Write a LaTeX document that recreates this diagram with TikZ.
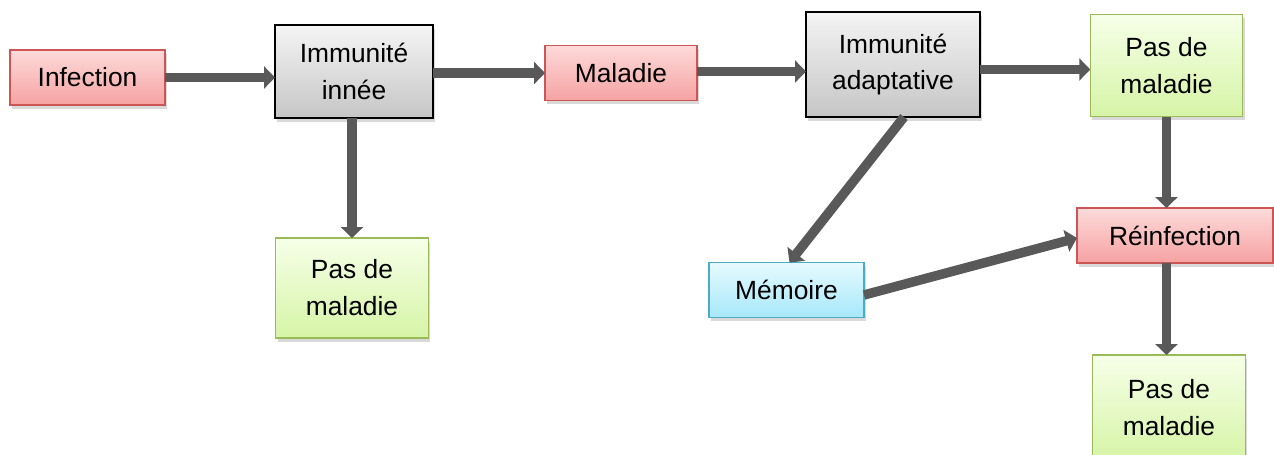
\documentclass[tikz,border=0pt]{standalone}
\usepackage{fontspec}
\setmainfont{Liberation Sans}
\usetikzlibrary{arrows.meta,shadows}

\definecolor{redtop}{HTML}{FDDADA}
\definecolor{redbot}{HTML}{F6A2A2}
\definecolor{redline}{HTML}{CC5555}
\definecolor{graytop}{HTML}{F4F4F4}
\definecolor{graybot}{HTML}{C6C6C6}
\definecolor{greentop}{HTML}{F6FFE8}
\definecolor{greenbot}{HTML}{D6F4A6}
\definecolor{greenline}{HTML}{9BBB59}
\definecolor{bluetop}{HTML}{E6FAFF}
\definecolor{bluebot}{HTML}{A6E8FA}
\definecolor{blueline}{HTML}{4BACC6}
\definecolor{arrowgray}{HTML}{595959}

\begin{document}
\begin{tikzpicture}[
    box/.style={draw,line width=0.8pt,align=center,inner sep=0pt,outer sep=0pt,
        font=\fontsize{15}{21}\selectfont,
        drop shadow={opacity=0.3,shadow xshift=0.04cm,shadow yshift=-0.07cm}},
    redbox/.style={box,draw=redline,top color=redtop,bottom color=redbot,minimum height=1.1cm},
    graybox/.style={box,draw=black,top color=graytop,bottom color=graybot,minimum height=2cm},
    greenbox/.style={box,draw=greenline,top color=greentop,bottom color=greenbot,minimum width=3.05cm,minimum height=2.05cm},
    bluebox/.style={box,draw=blueline,top color=bluetop,bottom color=bluebot,minimum height=1.1cm},
    flow/.style={line width=0.19cm,draw=arrowgray,-{Triangle[width=0.44cm,length=0.22cm]}}
]
    \useasboundingbox (0,0) rectangle (25.48,9.08);

    % top row
    \node[redbox,minimum width=3.1cm] (infection) at (1.75,7.53) {Infection};
    \node[graybox,minimum width=3.16cm,minimum height=1.86cm] (innee) at (7.08,7.65) {Immunité\\innée};
    \node[redbox,minimum width=3.04cm] (maladie) at (12.42,7.62) {Maladie};
    \node[graybox,minimum width=3.48cm,minimum height=2.1cm] (adapt) at (17.86,7.79) {Immunité\\adaptative};
    \node[greenbox] (pasA) at (23.33,7.77) {Pas de\\maladie};

    % lower part
    \node[greenbox,minimum height=2cm] (pasI) at (7.04,3.32) {Pas de\\maladie};
    \node[bluebox,minimum width=3.1cm] (memoire) at (15.73,3.28) {Mémoire};
    \node[redbox,minimum width=3.92cm] (reinf) at (23.5,4.37) {Réinfection};
    \node[greenbox,minimum height=2.1cm] (pasR) at (23.38,0.93) {Pas de\\maladie};

    \draw[flow] (infection) -- (innee.west |- infection);
    \draw[flow] (innee.east |- maladie) -- (maladie);
    \draw[flow] ([yshift=0.03cm]maladie.east) -- ([yshift=0.03cm]adapt.west |- maladie.east);
    \draw[flow] ([yshift=-0.08cm]adapt.east |- pasA.west) -- ([yshift=-0.08cm]pasA.west);
    \draw[flow] (innee.south -| pasI.north) -- (pasI.north);
    \draw[flow] ([xshift=0.22cm]adapt.south) -- ([xshift=0.06cm]memoire.north);
    \draw[flow] ([yshift=-0.1cm]memoire.east) -- ([yshift=-0.05cm]reinf.west);
    \draw[flow] (pasA.south) -- (pasA.south |- reinf.north);
    \draw[flow] ([xshift=-0.05cm]pasR.north |- reinf.south) -- ([xshift=-0.05cm]pasR.north);
\end{tikzpicture}
\end{document}
